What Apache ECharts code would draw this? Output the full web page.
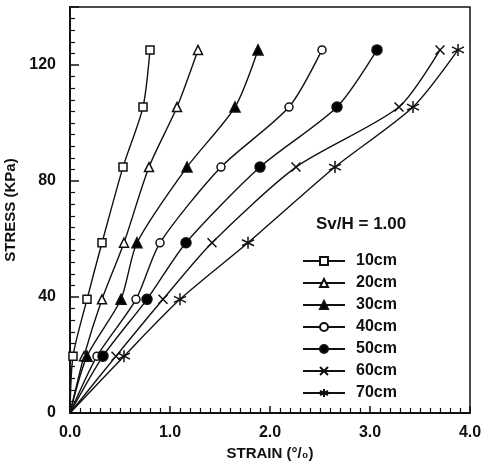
<!DOCTYPE html>
<html>
<head>
<meta charset="utf-8">
<script src="https://cdn.jsdelivr.net/npm/echarts@6/dist/echarts.min.js"></script>
<style>html,body{margin:0;padding:0;background:#fff}#c{width:492px;height:464px}</style>
</head>
<body>
<div id="c"></div>
<script>
// Stress levels (kPa), shared by all curves
var stress = [0, 19.6, 39.2, 58.7, 84.8, 105.5, 125.2];
// Strain (%) for each spacing
var strain10 = [0, 0.03, 0.17, 0.32, 0.53, 0.73, 0.80];
var strain20 = [0, 0.14, 0.32, 0.54, 0.79, 1.07, 1.28];
var strain30 = [0, 0.17, 0.51, 0.67, 1.17, 1.65, 1.88];
var strain40 = [0, 0.27, 0.66, 0.90, 1.51, 2.19, 2.52];
var strain50 = [0, 0.33, 0.77, 1.16, 1.90, 2.67, 3.07];
var strain60 = [0, 0.46, 0.93, 1.42, 2.26, 3.29, 3.70];
var strain70 = [0, 0.54, 1.10, 1.78, 2.65, 3.43, 3.88];
var seriesNames = ['10cm', '20cm', '30cm', '40cm', '50cm', '60cm', '70cm'];
var xTicks = [0, 1, 2, 3, 4];
var yTicks = [0, 40, 80, 120];

var strains = [strain10, strain20, strain30, strain40, strain50, strain60, strain70];
var FONT = 'Liberation Sans';
var symbols = [
  {s: 'rect', size: 8, fill: '#fff'},
  {s: 'triangle', size: 9, fill: '#fff'},
  {s: 'triangle', size: 10, fill: '#000'},
  {s: 'circle', size: 8, fill: '#fff'},
  {s: 'circle', size: 10, fill: '#000'},
  {s: 'path://M0,0L10,10M10,0L0,10', size: 9, fill: 'none'},
  {s: 'path://M5,0L5,10M0.7,2.5L9.3,7.5M9.3,2.5L0.7,7.5', size: 12, fill: 'none'}
];

var series = seriesNames.map(function (name, i) {
  var sy = symbols[i];
  return {
    name: name,
    type: 'line',
    smooth: 0.25,
    data: strains[i].map(function (v, k) { return [v, stress[k]]; }),
    symbol: sy.s,
    symbolSize: sy.size,
    showAllSymbol: true,
    lineStyle: {color: '#111', width: 1.4},
    itemStyle: {color: sy.fill === 'none' ? '#111' : sy.fill, borderColor: '#111', borderWidth: 1.5},
    emphasis: {disabled: true},
    z: 3
  };
});
// no symbol at origin
series.forEach(function (s) {
  s.data[0] = {value: s.data[0], symbol: 'none'};
});

var chart = echarts.init(document.getElementById('c'), null, {renderer: 'canvas'});
chart.setOption({
  animation: false,
  backgroundColor: '#fff',
  grid: {left: 70, right: 22, top: 7, bottom: 51, outerBoundsMode: 'none', containLabel: false,
    show: true, borderColor: '#111', borderWidth: 1.5, backgroundColor: 'transparent'},
  title: {text: 'Sv/H = 1.00', left: 311, top: 211, textStyle: {fontFamily: FONT, fontSize: 17, fontWeight: 'bold', color: '#111'}},
  legend: {
    data: seriesNames,
    orient: 'vertical',
    left: 297,
    top: 248,
    itemWidth: 42,
    itemHeight: 10,
    itemGap: 6,
    textStyle: {fontFamily: FONT, fontSize: 16, fontWeight: 'bold', color: '#111', padding: [0, 0, 0, 6]},
    inactiveColor: '#111'
  },
  xAxis: {
    type: 'value', min: xTicks[0], max: xTicks[xTicks.length - 1], interval: 1,
    name: 'STRAIN (°/₀)', nameLocation: 'middle', nameGap: 33,
    nameTextStyle: {fontFamily: FONT, fontSize: 15, fontWeight: 'bold', color: '#111'},
    axisLine: {lineStyle: {color: '#111', width: 2}},
    axisTick: {inside: true, length: 7, lineStyle: {color: '#111', width: 1.5}},
    minorTick: {show: true, splitNumber: 10, length: 5, lineStyle: {color: '#111', width: 1.2}},
    splitLine: {show: false},
    axisLabel: {fontFamily: FONT, fontSize: 16, fontWeight: 'bold', color: '#111', margin: 12, formatter: function (v) { return v.toFixed(1); }}
  },
  yAxis: {
    type: 'value', min: 0, max: 140, interval: 40,
    name: 'STRESS (KPa)', nameLocation: 'middle', nameGap: 42,
    nameTextStyle: {fontFamily: FONT, fontSize: 15, fontWeight: 'bold', color: '#111'},
    axisLine: {lineStyle: {color: '#111', width: 2}},
    axisTick: {inside: true, length: 9, lineStyle: {color: '#111', width: 1.5}},
    minorTick: {show: true, splitNumber: 10, length: 5, lineStyle: {color: '#111', width: 1.2}},
    splitLine: {show: false},
    axisLabel: {fontFamily: FONT, fontSize: 16, fontWeight: 'bold', color: '#111', margin: 14, showMaxLabel: false,
      formatter: function (v) { return yTicks.indexOf(v) >= 0 ? String(v) : ''; }}
  },
  series: series
});
</script>
</body>
</html>
